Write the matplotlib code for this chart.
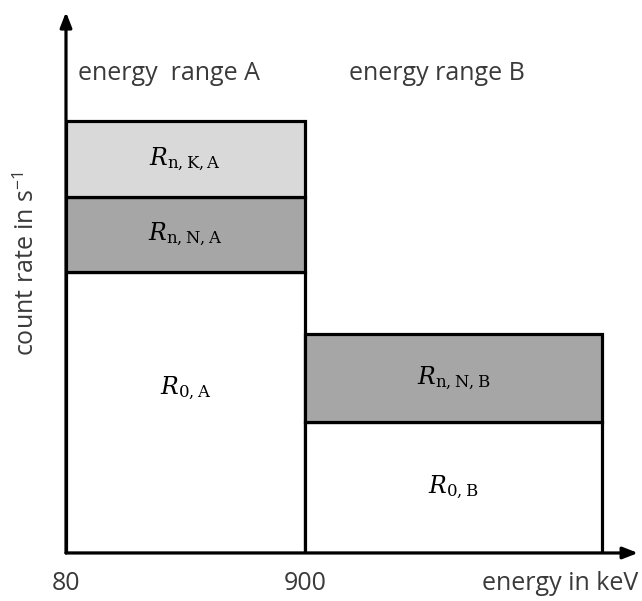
import numpy as np
from matplotlib import pyplot as plt

plt.rcParams["font.family"] = ["Open Sans", "DejaVu Sans"]
plt.rcParams["mathtext.fontset"] = "dejavuserif"

# energy bin edges [keV] (right edge of range B is not labelled)
energy_edges = [80, 900, 1920]
range_names = ["energy  range A", "energy range B"]

# stacked count rates (arbitrary units), bottom to top
rate_0 = [281, 131]            # R_0
rate_nN = [75, 88]             # R_n,N
rate_nK = [76, 0]              # R_n,K (range A only)

labels_0 = [r"$R_{\mathrm{0,A}}$", r"$R_{\mathrm{0,B}}$"]
labels_nN = [r"$R_{\mathrm{n,N,A}}$", r"$R_{\mathrm{n,N,B}}$"]
labels_nK = [r"$R_{\mathrm{n,K,A}}$", ""]

xtick_vals = [80, 900]
xtick_text = ["80", "900"]

TEXT_COL = "#3a3a3a"
FS = 18


def main():
    fig = plt.figure(figsize=(6.42, 6.01), dpi=100)
    ax = fig.add_axes([0.1028, 0.0799, 0.891, 0.900])
    ax.set_xlim(80, 2043)
    ax.set_ylim(0, 541)

    lefts = np.array(energy_edges[:-1])
    widths = np.diff(energy_edges)
    r0 = np.array(rate_0)
    rn = np.array(rate_nN)
    rk = np.array(rate_nK)

    bar_kw = dict(align="edge", edgecolor="k", linewidth=2.3)
    ax.bar(lefts, r0, widths, color="white", **bar_kw)
    ax.bar(lefts, rn, widths, bottom=r0, color="#a6a6a6", **bar_kw)
    has_k = rk > 0
    ax.bar(lefts[has_k], rk[has_k], widths[has_k], bottom=(r0 + rn)[has_k],
           color="#d9d9d9", **bar_kw)

    # labels inside the segments
    centers = lefts + widths / 2
    r0_frac = [0.587, 0.5]
    for i in range(len(centers)):
        ax.text(centers[i], r0[i] * r0_frac[i], labels_0[i], ha="center", va="center", fontsize=17)
        ax.text(centers[i], r0[i] + rn[i] / 2, labels_nN[i], ha="center", va="center", fontsize=17)
        if labels_nK[i]:
            ax.text(centers[i], r0[i] + rn[i] + rk[i] / 2, labels_nK[i],
                    ha="center", va="center", fontsize=17)

    # range headings
    ax.text(80 + 40, 480, range_names[0], ha="left", va="center", fontsize=FS, color=TEXT_COL)
    ax.text(1353, 480, range_names[1], ha="center", va="center", fontsize=FS, color=TEXT_COL)

    # axes as arrows
    for s in ax.spines.values():
        s.set_visible(False)
    arrow = dict(arrowstyle="-|>,head_length=0.9,head_width=0.35", color="k", lw=2.3,
                 shrinkA=0, shrinkB=0)
    ax.annotate("", xy=(1, 0), xytext=(0, 0), xycoords="axes fraction", arrowprops=arrow)
    ax.annotate("", xy=(0, 1), xytext=(0, 0), xycoords="axes fraction", arrowprops=arrow)

    ax.set_yticks([])
    ax.set_xticks(xtick_vals)
    ax.set_xticklabels(xtick_text, fontsize=FS, color=TEXT_COL)
    ax.tick_params(axis="x", length=0, pad=13)

    ax.text(1.0, -0.057, "energy in keV", transform=ax.transAxes, ha="right", va="center",
            fontsize=FS, color=TEXT_COL)
    ax.text(-0.068, 0.535, r"count rate in s$^{\mathregular{-1}}$", transform=ax.transAxes,
            rotation=90, ha="center", va="center", fontsize=FS, color=TEXT_COL)

    fig.savefig("out.png", dpi=100)


if __name__ == "__main__":
    main()
